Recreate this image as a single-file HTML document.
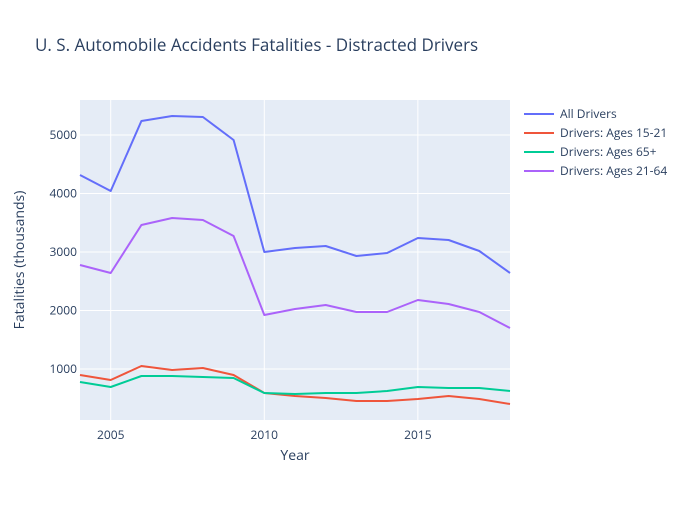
<!DOCTYPE html>
<html><head><meta charset="utf-8"><style>
body{margin:0;background:#fff;font-family:"Open Sans","Liberation Sans",sans-serif}
</style></head><body>
<svg id="chart" width="700" height="500" xmlns="http://www.w3.org/2000/svg"></svg>
<script>
const years=[2004,2005,2006,2007,2008,2009,2010,2011,2012,2013,2014,2015,2016,2017,2018];
const allDrivers=[4316,4043,5239,5325,5308,4915,3000,3068,3103,2932,2983,3239,3205,3017,2641];
const ages1521=[897,812,1051,983,1017,897,590,538,504,453,453,487,538,487,402];
const ages65=[778,692,880,880,863,846,590,573,590,590,624,692,675,675,624];
const ages2164=[2778,2641,3462,3581,3547,3274,1923,2026,2094,1974,1974,2179,2111,1974,1701];
const xTicks=[2005,2010,2015];
const yTicks=[1000,2000,3000,4000,5000];
const seriesNames=["All Drivers","Drivers: Ages 15-21","Drivers: Ages 65+","Drivers: Ages 21-64"];
const seriesColors=["#636efa","#EF553B","#00cc96","#ab63fa"];
const seriesData=[allDrivers,ages1521,ages65,ages2164];

const L=80,R=510,T=100,B=420;
const xMin=2004,xMax=2018,yMin=128,yMax=5598;
const X=v=>L+(v-xMin)/(xMax-xMin)*(R-L);
const Y=v=>B-(v-yMin)/(yMax-yMin)*(B-T);
const svg=document.getElementById('chart');
const NS='http://www.w3.org/2000/svg';
function mk(tag,attrs,parent){const e=document.createElementNS(NS,tag);for(const k in attrs)e.setAttribute(k,attrs[k]);(parent||svg).appendChild(e);return e;}

const bg=mk('rect',{x:L,y:T,width:R-L,height:B-T,fill:'#e5ecf6'});



xTicks.forEach(t=>{
  const g=mk('line',{x1:X(t),x2:X(t),y1:T,y2:B,stroke:'#fff','stroke-width':1});
  
  
  const tx=mk('text',{x:X(t),y:B+19,'text-anchor':'middle','font-size':12,fill:'#2a3f5f'});
  tx.textContent=t;
  
  
});
yTicks.forEach(t=>{
  const g=mk('line',{x1:L,x2:R,y1:Y(t),y2:Y(t),stroke:'#fff','stroke-width':1});
  
  
  const tx=mk('text',{x:L-3,y:Y(t)+4,'text-anchor':'end','font-size':12,fill:'#2a3f5f'});
  tx.textContent=t;
  
  
});

seriesData.forEach((d,i)=>{
  const pts=d.map((v,j)=>X(years[j]).toFixed(1)+','+Y(v).toFixed(1)).join(' ');
  const p=mk('polyline',{points:pts,fill:'none',stroke:seriesColors[i],'stroke-width':2,'stroke-linejoin':'round'});
  
  
  const ly=114+i*19;
  const ll=mk('line',{x1:524,x2:554,y1:ly,y2:ly,stroke:seriesColors[i],'stroke-width':2});
  
  
  const lt=mk('text',{x:560,y:ly+4,'font-size':12,fill:'#2a3f5f'});
  lt.textContent=seriesNames[i];
  
  
});

const title=mk('text',{x:35,y:51,'font-size':17,fill:'#2a3f5f'});
title.textContent='U. S. Automobile Accidents Fatalities - Distracted Drivers';


const xt=mk('text',{x:295,y:460,'text-anchor':'middle','font-size':14,fill:'#2a3f5f'});
xt.textContent='Year';


const yt=mk('text',{x:0,y:0,'text-anchor':'middle','font-size':14,fill:'#2a3f5f',transform:'translate(24,260) rotate(-90)'});
yt.textContent='Fatalities (thousands)';


</script>
</body></html>
